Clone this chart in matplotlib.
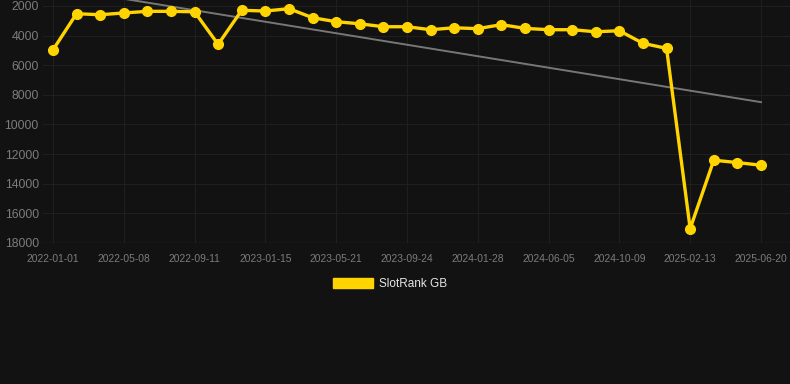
import matplotlib
matplotlib.use("Agg")
import matplotlib.pyplot as plt
from matplotlib.patches import Patch
import numpy as np

plt.rcParams['font.family'] = ['Liberation Sans', 'DejaVu Sans']

# rank values (lower = better), one point roughly every 42 days
ranks = [4970, 2520, 2590, 2470, 2360, 2360, 2390, 4590, 2290, 2340,
         2180, 2790, 3060, 3200, 3400, 3400, 3600, 3470, 3530, 3260,
         3510, 3600, 3600, 3740, 3670, 4520, 4860, 17030, 12410, 12570,
         12750]
tick_labels = ["2022-01-01", "2022-05-08", "2022-09-11", "2023-01-15",
               "2023-05-21", "2023-09-24", "2024-01-28", "2024-06-05",
               "2024-10-09", "2025-02-13", "2025-06-20"]
y_ticks = [2000, 4000, 6000, 8000, 10000, 12000, 14000, 16000, 18000]

bg = "#121212"
grid_c = "#1f1f1f"
text_c = "#7c7c7c"
yellow = "#FFD400"

x = np.arange(len(ranks))
slope, icpt = np.polyfit(x, ranks, 1)
trend = slope * x + icpt

fig = plt.figure(figsize=(7.9, 3.84), dpi=100, facecolor=bg)
ax = fig.add_axes([43 / 790, 1 - 243 / 384, 747 / 790, 243 / 384])
ax.set_facecolor(bg)

ax.plot(x, trend, color="#777777", lw=1.4, zorder=2)
ax.plot(x, ranks, color=yellow, lw=2.4, marker="o", markersize=7,
        zorder=3)

ax.set_xlim(-0.42, 31.23)
ax.set_ylim(18000, 1595)
ax.set_xticks(x[::3])
ax.set_xticklabels(tick_labels)
ax.set_yticks(y_ticks)
ax.grid(True, color=grid_c, lw=0.8)
ax.axhline(18000, color="#2a2a2a", lw=1.0, zorder=1)
ax.set_axisbelow(True)
for s in ax.spines.values():
    s.set_visible(False)
ax.tick_params(axis="x", colors=text_c, labelsize=7.4, length=0, pad=8)
ax.tick_params(axis="y", colors=text_c, labelsize=8.8, length=0, pad=3)

fig.legend(handles=[Patch(color=yellow, label="SlotRank GB")],
           loc="center", bbox_to_anchor=(390 / 790, 1 - 284 / 384),
           frameon=False, fontsize=8.5, labelcolor="#e6e6e6",
           handlelength=3.4, handleheight=1.0, handletextpad=0.5)

fig.savefig("out.png", dpi=100, facecolor=bg)
